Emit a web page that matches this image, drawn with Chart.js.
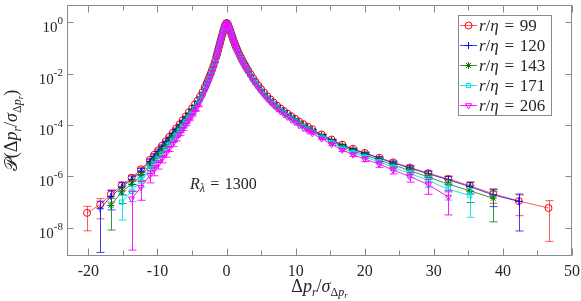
<!DOCTYPE html>
<html>
<head>
<meta charset="utf-8">
<script src="https://cdn.jsdelivr.net/npm/chart.js@4.4.1/dist/chart.umd.min.js"></script>
<style>
  html, body { margin: 0; padding: 0; background: #fff; }
</style>
</head>
<body>
<canvas id="pdf" width="581" height="301"></canvas>
<script>
// bin centres, shared by all five separations (left tail / core / right tail)
const xBins = [-20.2, -18.3, -16.75, -15.2, -13.75, -12.4, -11.1, -10.5, -9.9, -9.35,
  -8.8, -8.3, -7.8, -7.3, -6.8, -6.35, -5.9, -5.45, -5.0, -4.6, -4.2, -3.85, -3.5, -3.15,
  -2.9, -2.7, -2.5, -2.3, -2.1, -1.9, -1.7, -1.5, -1.4, -1.3, -1.2, -1.1, -1.0, -0.9, -0.8,
  -0.7, -0.6, -0.5, -0.4, -0.3, -0.2, -0.1, 0, 0.1, 0.2, 0.3, 0.4, 0.5, 0.6, 0.7, 0.8, 0.9,
  1.0, 1.1, 1.2, 1.3, 1.4, 1.5, 1.7, 1.9, 2.1, 2.3, 2.5, 2.7, 2.9,
  3.15, 3.5, 3.85, 4.2, 4.6, 5.0, 5.45, 5.9, 6.35, 6.8, 7.3, 7.8, 8.3, 8.8, 9.35, 9.9,
  10.5, 11.1, 11.75, 12.4, 13.75, 15.2, 16.75, 18.3, 20.0, 22.1, 24.1, 26.5, 29.2, 32.1,
  35.2, 38.6, 42.3, 46.6];

// log10 of the PDF
const logP99 = [-7.42, -7.1, -6.7, -6.35, -6.05, -5.72, -5.35, -5.16, -4.98, -4.8,
  -4.63, -4.46, -4.3, -4.13, -3.97, -3.81, -3.66, -3.5, -3.35, -3.2, -3.05, -2.89, -2.72, -2.52,
  -2.38, -2.25, -2.12, -1.99, -1.84, -1.69, -1.53, -1.35, -1.25, -1.15, -1.05, -0.95, -0.85, -0.75, -0.65,
  -0.55, -0.45, -0.36, -0.27, -0.18, -0.1, -0.05, -0.02, -0.04, -0.08, -0.15, -0.22, -0.3, -0.38, -0.46, -0.54, -0.62,
  -0.7, -0.77, -0.84, -0.91, -0.98, -1.04, -1.16, -1.27, -1.38, -1.48, -1.58, -1.68, -1.77,
  -1.88, -2.03, -2.18, -2.32, -2.46, -2.6, -2.74, -2.88, -3.0, -3.12, -3.24, -3.35, -3.45, -3.55, -3.65, -3.75,
  -3.86, -3.96, -4.06, -4.16, -4.36, -4.56, -4.76, -4.92, -5.08, -5.27, -5.45, -5.65, -5.87, -6.1,
  -6.36, -6.68, -6.96, -7.23];
const logP120 = [null, -7.26, -6.78, -6.42, -6.12, -5.79, -5.41, -5.22, -5.03, -4.85,
  -4.68, -4.51, -4.34, -4.17, -4.01, -3.85, -3.69, -3.53, -3.38, -3.23, -3.07, -2.91, -2.74, -2.54,
  -2.39, -2.26, -2.13, -2.0, -1.85, -1.7, -1.54, -1.36, -1.25, -1.15, -1.05, -0.95, -0.85, -0.75, -0.65,
  -0.55, -0.45, -0.36, -0.27, -0.18, -0.1, -0.05, -0.02, -0.04, -0.08, -0.15, -0.22, -0.3, -0.38, -0.46, -0.54, -0.62,
  -0.7, -0.77, -0.84, -0.91, -0.98, -1.04, -1.16, -1.28, -1.39, -1.49, -1.59, -1.69, -1.78,
  -1.89, -2.04, -2.19, -2.33, -2.47, -2.61, -2.75, -2.89, -3.01, -3.13, -3.25, -3.36, -3.46, -3.56, -3.66, -3.76,
  -3.88, -3.98, -4.08, -4.18, -4.38, -4.58, -4.78, -4.94, -5.1, -5.29, -5.47, -5.67, -5.9, -6.13,
  -6.4, -6.72, -6.97, null];
const logP143 = [null, null, -7.13, -6.6, -6.3, -5.97, -5.56, -5.36, -5.17, -4.98,
  -4.8, -4.62, -4.45, -4.27, -4.1, -3.93, -3.77, -3.6, -3.44, -3.29, -3.13, -2.96, -2.78, -2.58,
  -2.43, -2.3, -2.16, -2.03, -1.87, -1.72, -1.56, -1.37, -1.27, -1.17, -1.06, -0.96, -0.86, -0.76, -0.66,
  -0.56, -0.46, -0.37, -0.27, -0.18, -0.1, -0.05, -0.02, -0.04, -0.08, -0.16, -0.23, -0.31, -0.39, -0.47, -0.55, -0.63,
  -0.71, -0.78, -0.85, -0.92, -0.99, -1.05, -1.17, -1.29, -1.4, -1.5, -1.6, -1.7, -1.79,
  -1.9, -2.05, -2.21, -2.35, -2.49, -2.63, -2.78, -2.92, -3.04, -3.16, -3.28, -3.39, -3.5, -3.6, -3.7, -3.8,
  -3.91, -4.01, -4.12, -4.22, -4.42, -4.63, -4.83, -5.0, -5.16, -5.36, -5.55, -5.77, -6.02, -6.3,
  -6.56, -6.85, null, null];
const logP171 = [null, null, null, -7.0, -6.58, -6.18, -5.74, -5.53, -5.33, -5.13,
  -4.95, -4.76, -4.59, -4.4, -4.22, -4.04, -3.87, -3.7, -3.53, -3.36, -3.19, -3.02, -2.84, -2.62,
  -2.47, -2.34, -2.2, -2.06, -1.9, -1.74, -1.57, -1.39, -1.28, -1.18, -1.08, -0.98, -0.88, -0.77, -0.67,
  -0.57, -0.46, -0.37, -0.28, -0.19, -0.11, -0.06, -0.03, -0.05, -0.09, -0.16, -0.23, -0.31, -0.39, -0.48, -0.56, -0.64,
  -0.72, -0.79, -0.87, -0.94, -1.01, -1.07, -1.19, -1.3, -1.41, -1.51, -1.62, -1.72, -1.81,
  -1.93, -2.08, -2.23, -2.37, -2.52, -2.66, -2.81, -2.95, -3.07, -3.19, -3.32, -3.43, -3.53, -3.63, -3.74, -3.84,
  -3.96, -4.06, -4.16, -4.26, -4.47, -4.68, -4.9, -5.07, -5.24, -5.43, -5.65, -5.88, -6.16, -6.5,
  -6.74, null, null, null];
const logP206 = [null, null, null, null, -6.87, -6.42, -5.95, -5.73, -5.52, -5.31,
  -5.12, -4.92, -4.74, -4.54, -4.35, -4.16, -3.98, -3.8, -3.62, -3.45, -3.27, -3.09, -2.9, -2.68,
  -2.52, -2.38, -2.24, -2.09, -1.93, -1.77, -1.6, -1.41, -1.3, -1.2, -1.09, -0.99, -0.89, -0.78, -0.68,
  -0.58, -0.47, -0.38, -0.28, -0.19, -0.11, -0.06, -0.03, -0.05, -0.09, -0.17, -0.24, -0.32, -0.4, -0.49, -0.57, -0.65,
  -0.73, -0.8, -0.88, -0.95, -1.02, -1.08, -1.2, -1.32, -1.43, -1.53, -1.64, -1.74, -1.83,
  -1.95, -2.1, -2.26, -2.4, -2.55, -2.69, -2.84, -2.98, -3.11, -3.23, -3.36, -3.47, -3.58, -3.68, -3.79, -3.89,
  -4.01, -4.11, -4.22, -4.32, -4.53, -4.75, -4.97, -5.15, -5.32, -5.52, -5.75, -6.0, -6.32, -6.8,
  null, null, null, null];

// error bar half-height relative to the value (sigma / P); core bins have none visible
const relErr99 = [0.8, 0.72, 0.5, 0.38, 0.28, 0.2, 0.15, 0.13, 0.11, 0.09,
  0.08, 0.07, 0.06, 0.05, 0.04, 0.03, 0.03, 0, 0, 0, 0, 0, 0, 0,
  0, 0, 0, 0, 0, 0, 0, 0, 0, 0, 0, 0, 0, 0, 0,
  0, 0, 0, 0, 0, 0, 0, 0, 0, 0, 0, 0, 0, 0, 0, 0, 0,
  0, 0, 0, 0, 0, 0, 0, 0, 0, 0, 0, 0, 0,
  0, 0, 0, 0, 0, 0, 0, 0, 0, 0, 0, 0, 0, 0, 0, 0,
  0, 0, 0, 0.02, 0.02, 0.03, 0.04, 0.06, 0.08, 0.1, 0.13, 0.17, 0.23, 0.3,
  0.4, 0.57, 0.73, 0.95];
const relErr120 = [null, 0.98, 0.7, 0.5, 0.36, 0.26, 0.19, 0.16, 0.14, 0.12,
  0.1, 0.08, 0.07, 0.06, 0.05, 0.04, 0.03, 0, 0, 0, 0, 0, 0, 0,
  0, 0, 0, 0, 0, 0, 0, 0, 0, 0, 0, 0, 0, 0, 0,
  0, 0, 0, 0, 0, 0, 0, 0, 0, 0, 0, 0, 0, 0, 0, 0, 0,
  0, 0, 0, 0, 0, 0, 0, 0, 0, 0, 0, 0, 0,
  0, 0, 0, 0, 0, 0, 0, 0, 0, 0, 0, 0, 0, 0, 0, 0,
  0, 0, 0, 0.02, 0.03, 0.04, 0.05, 0.07, 0.09, 0.12, 0.15, 0.2, 0.27, 0.36,
  0.48, 0.65, 0.93, null];
const relErr143 = [null, null, 0.89, 0.65, 0.48, 0.34, 0.25, 0.21, 0.18, 0.15,
  0.13, 0.11, 0.09, 0.07, 0.06, 0.05, 0.04, 0.03, 0, 0, 0, 0, 0, 0,
  0, 0, 0, 0, 0, 0, 0, 0, 0, 0, 0, 0, 0, 0, 0,
  0, 0, 0, 0, 0, 0, 0, 0, 0, 0, 0, 0, 0, 0, 0, 0, 0,
  0, 0, 0, 0, 0, 0, 0, 0, 0, 0, 0, 0, 0,
  0, 0, 0, 0, 0, 0, 0, 0, 0, 0, 0, 0, 0, 0, 0, 0,
  0, 0, 0, 0.03, 0.04, 0.05, 0.07, 0.09, 0.12, 0.15, 0.2, 0.27, 0.36, 0.5,
  0.65, 0.88, null, null];
const relErr171 = [null, null, null, 0.8, 0.6, 0.42, 0.3, 0.26, 0.22, 0.19,
  0.16, 0.13, 0.11, 0.09, 0.08, 0.06, 0.05, 0.04, 0.03, 0, 0, 0, 0, 0,
  0, 0, 0, 0, 0, 0, 0, 0, 0, 0, 0, 0, 0, 0, 0,
  0, 0, 0, 0, 0, 0, 0, 0, 0, 0, 0, 0, 0, 0, 0, 0, 0,
  0, 0, 0, 0, 0, 0, 0, 0, 0, 0, 0, 0, 0,
  0, 0, 0, 0, 0, 0, 0, 0, 0, 0, 0, 0, 0, 0, 0, 0,
  0, 0, 0, 0.04, 0.05, 0.06, 0.08, 0.11, 0.14, 0.18, 0.24, 0.32, 0.45, 0.62,
  0.86, null, null, null];
const relErr206 = [null, null, null, null, 0.99, 0.69, 0.5, 0.43, 0.36, 0.31,
  0.26, 0.22, 0.19, 0.16, 0.13, 0.11, 0.09, 0.07, 0.06, 0.04, 0.03, 0, 0, 0,
  0, 0, 0, 0, 0, 0, 0, 0, 0, 0, 0, 0, 0, 0, 0,
  0, 0, 0, 0, 0, 0, 0, 0, 0, 0, 0, 0, 0, 0, 0, 0, 0,
  0, 0, 0, 0, 0, 0, 0, 0, 0, 0, 0, 0, 0,
  0, 0, 0, 0, 0, 0, 0, 0, 0, 0, 0, 0, 0, 0, 0, 0,
  0, 0, 0.04, 0.05, 0.07, 0.09, 0.12, 0.15, 0.2, 0.25, 0.3, 0.4, 0.58, 0.8,
  null, null, null, null];

const separations = ['99', '120', '143', '171', '206'];
const xTicks = [-20, -10, 0, 10, 20, 30, 40, 50];
const xMinorTicks = [-15, -5, 5, 15, 25, 35, 45];
const yTickExps = [0, -2, -4, -6, -8];

const SERIF = '"Liberation Serif", "DejaVu Serif", serif';

function makePoints(logs, errs) {
  const pts = [];
  xBins.forEach((x, i) => {
    if (logs[i] === null) return;
    pts.push({ x: x, y: Math.pow(10, logs[i]), err: errs[i] });
  });
  return pts;
}

const styles = [
  { line: 'rgba(255,0,0,0.65)', mark: '#ff0000', shape: 'circle', rot: 0 },
  { line: 'rgba(0,0,255,0.75)', mark: '#0000ff', shape: 'cross', rot: 0 },
  { line: 'rgba(0,128,0,0.8)', mark: '#007a00', shape: 'star', rot: 0 },
  { line: 'rgba(0,230,230,0.9)', mark: '#00e0e0', shape: 'rect', rot: 0 },
  { line: 'rgba(255,0,255,0.9)', mark: '#ff00ff', shape: 'triangle', rot: 180 }
];
const allLogs = [logP99, logP120, logP143, logP171, logP206];
const allErrs = [relErr99, relErr120, relErr143, relErr171, relErr206];

const datasets = separations.map((s, k) => ({
  label: 'r/η = ' + s,
  data: makePoints(allLogs[k], allErrs[k]),
  borderColor: styles[k].line,
  borderWidth: 1,
  pointStyle: styles[k].shape,
  pointRotation: styles[k].rot,
  pointRadius: styles[k].shape === 'rect' ? 3 : 3.5,
  pointBorderColor: styles[k].mark,
  pointBackgroundColor: 'rgba(0,0,0,0)',
  pointBorderWidth: 1,
  tension: 0,
  order: 5 - k
}));

// rich text: parts are [text, size, italic, dy]
function richWidth(ctx, parts) {
  let w = 0;
  parts.forEach(p => {
    ctx.font = (p[2] ? 'italic ' : '') + p[1] + 'px ' + SERIF;
    w += ctx.measureText(p[0]).width;
  });
  return w;
}
function drawRich(ctx, parts, x, y, align) {
  const w = richWidth(ctx, parts);
  let cx = align === 'center' ? x - w / 2 : (align === 'right' ? x - w : x);
  ctx.textAlign = 'left';
  ctx.textBaseline = 'alphabetic';
  parts.forEach(p => {
    ctx.font = (p[2] ? 'italic ' : '') + p[1] + 'px ' + SERIF;
    ctx.fillText(p[0], cx, y + (p[3] || 0));
    cx += ctx.measureText(p[0]).width;
  });
}

const errorBars = {
  id: 'errorBars',
  beforeDatasetDraw(chart, args) {
    const ds = chart.data.datasets[args.index];
    const xs = chart.scales.x, ys = chart.scales.y;
    const a = chart.chartArea;
    const ctx = chart.ctx;
    ctx.save();
    ctx.beginPath();
    ctx.rect(a.left, a.top, a.right - a.left, a.bottom - a.top);
    ctx.clip();
    ctx.strokeStyle = ds.borderColor;
    ctx.lineWidth = 1;
    ds.data.forEach(pt => {
      if (!pt.err) return;
      const px = Math.round(xs.getPixelForValue(pt.x)) + 0.5;
      const top = ys.getPixelForValue(pt.y * (1 + pt.err));
      const bot = pt.err < 1 ? ys.getPixelForValue(pt.y * (1 - pt.err)) : a.bottom + 20;
      ctx.beginPath();
      ctx.moveTo(px, top); ctx.lineTo(px, bot);
      ctx.moveTo(px - 4, top); ctx.lineTo(px + 4, top);
      ctx.moveTo(px - 4, bot); ctx.lineTo(px + 4, bot);
      ctx.stroke();
    });
    ctx.restore();
  }
};

const frame = {
  id: 'frame',
  afterDraw(chart) {
    const ctx = chart.ctx;
    const a = chart.chartArea;
    const xs = chart.scales.x, ys = chart.scales.y;
    ctx.save();
    ctx.strokeStyle = '#8a8a8a';
    ctx.lineWidth = 1;
    const L = Math.round(a.left) + 0.5, R = Math.round(a.right) - 0.5;
    const T = Math.round(a.top) + 0.5, B = Math.round(a.bottom) - 0.5;
    ctx.strokeRect(L, T, R - L, B - T);
    ctx.beginPath();
    xTicks.concat(xMinorTicks).forEach(v => {
      const px = Math.round(xs.getPixelForValue(v)) + 0.5;
      const len = xTicks.includes(v) ? 7 : 5;
      ctx.moveTo(px, B); ctx.lineTo(px, B - len);
      ctx.moveTo(px, T); ctx.lineTo(px, T + len);
    });
    yTickExps.forEach(e => {
      const py = Math.round(ys.getPixelForValue(Math.pow(10, e))) + 0.5;
      ctx.moveTo(L, py); ctx.lineTo(L + 6, py);
      ctx.moveTo(R, py); ctx.lineTo(R - 6, py);
    });
    ctx.stroke();

    ctx.fillStyle = '#262626';
    ctx.font = '16px ' + SERIF;
    ctx.textAlign = 'center';
    ctx.textBaseline = 'alphabetic';
    xTicks.forEach(v => {
      ctx.fillText(String(v), xs.getPixelForValue(v), 276);
    });
    yTickExps.forEach(e => {
      const py = ys.getPixelForValue(Math.pow(10, e));
      const ex = String(e);
      ctx.font = '11px ' + SERIF;
      const ew = ctx.measureText(ex).width;
      ctx.textAlign = 'left';
      ctx.fillText(ex, 63 - ew, py + 2);
      ctx.font = '15px ' + SERIF;
      ctx.textAlign = 'right';
      ctx.fillText('10', 63 - ew, py + 10);
    });

    // axis titles
    ctx.fillStyle = '#262626';
    drawRich(ctx, [['Δ', 18, false], ['p', 18, true], ['r', 12, true, 4], ['/', 18, false],
      ['σ', 18, true], ['Δ', 12, false, 4], ['p', 12, true, 4], ['r', 9, true, 6]],
      (a.left + a.right) / 2, 292, 'center');
    ctx.save();
    ctx.translate(17, (a.top + a.bottom) / 2);
    ctx.rotate(-Math.PI / 2);
    drawRich(ctx, [['𝒫', 18, false], ['(Δ', 18, false], ['p', 18, true], ['r', 12, true, 4], ['/', 18, false],
      ['σ', 18, true], ['Δ', 12, false, 4], ['p', 12, true, 4], ['r', 9, true, 6], [')', 18, false]],
      0, 0, 'center');
    ctx.restore();

    // Reynolds number note
    drawRich(ctx, [['R', 16, true], ['λ', 12, true, 3], ['\u2004=\u20041300', 16, false]], 190, 189, 'left');

    // legend
    const bx = 458.5, by = 15.5, bw = 93, bh = 100;
    ctx.fillStyle = '#fff';
    ctx.fillRect(bx, by, bw, bh);
    ctx.strokeStyle = '#8a8a8a';
    ctx.strokeRect(bx, by, bw, bh);
    separations.forEach((s, k) => {
      const ry = 25.5 + k * 20;
      ctx.strokeStyle = styles[k].line;
      ctx.beginPath();
      ctx.moveTo(460, ry); ctx.lineTo(477, ry);
      ctx.stroke();
      ctx.strokeStyle = styles[k].mark;
      ctx.fillStyle = 'rgba(0,0,0,0)';
      ctx.lineWidth = 1;
      Chart.helpers.drawPoint(ctx, {
        pointStyle: styles[k].shape,
        rotation: styles[k].rot,
        radius: styles[k].shape === 'rect' ? 3 : 3.5,
        borderWidth: 1
      }, 468.5, ry);
      ctx.fillStyle = '#262626';
      drawRich(ctx, [['r', 17, true], ['/', 17, false], ['η', 17, true], ['\u2004=\u2004' + s, 17, false]], 479, ry + 5.5, 'left');
    });
    ctx.restore();
  }
};

new Chart(document.getElementById('pdf'), {
  type: 'line',
  data: { datasets: datasets },
  options: {
    responsive: false,
    animation: false,
    layout: { padding: { left: 67, right: 9, top: 0, bottom: 45 } },
    plugins: { legend: { display: false }, tooltip: { enabled: false } },
    scales: {
      x: { type: 'linear', min: -23.1, max: 50, bounds: 'data', display: false },
      y: { type: 'logarithmic', min: Math.pow(10, -9.1), max: Math.pow(10, 0.68), bounds: 'data', display: false }
    }
  },
  plugins: [errorBars, frame]
});
</script>
</body>
</html>
